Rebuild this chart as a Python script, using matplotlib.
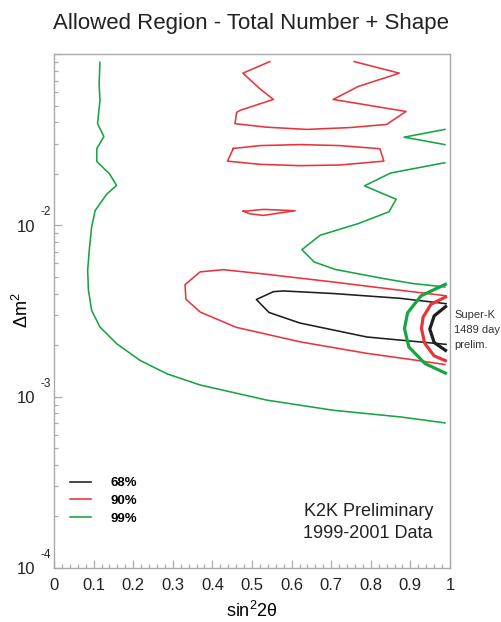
import matplotlib
matplotlib.use("Agg")
import matplotlib.pyplot as plt
import matplotlib.transforms as mtransforms
from matplotlib.ticker import MultipleLocator, LogLocator, NullFormatter

# K2K allowed region contours (sin^2 2theta, delta m^2 in eV^2)
k2k_68_x = [0.990, 0.874, 0.705, 0.579, 0.554, 0.511, 0.543, 0.621, 0.790, 0.990]
k2k_68_y = [0.00349, 0.00375, 0.00400, 0.00414, 0.00410, 0.00369, 0.00310, 0.00269, 0.00223, 0.00202]

k2k_90_main_x = [0.990, 0.874, 0.705, 0.537, 0.428, 0.369, 0.331, 0.333, 0.369, 0.460,
                 0.621, 0.790, 0.916, 0.987]
k2k_90_main_y = [0.00388, 0.00418, 0.00467, 0.00518, 0.00551, 0.00535, 0.00451, 0.00371,
                 0.00312, 0.00254, 0.00209, 0.00179, 0.00163, 0.00154]

k2k_90_top_x = [0.545, 0.477, 0.520, 0.554, 0.470, 0.461, 0.457, 0.537, 0.638, 0.747,
                0.840, 0.889, 0.705, 0.768, 0.872, 0.758]
k2k_90_top_y = [0.0903, 0.0773, 0.0627, 0.0543, 0.0469, 0.0456, 0.0392, 0.0374, 0.0363,
                0.0372, 0.0388, 0.0462, 0.0543, 0.0646, 0.0773, 0.0903]

k2k_90_band_x = [0.453, 0.438, 0.520, 0.621, 0.722, 0.833, 0.823, 0.722, 0.621, 0.520, 0.453]
k2k_90_band_y = [0.0281, 0.0237, 0.0227, 0.0223, 0.0225, 0.0237, 0.0280, 0.0292, 0.0296,
                 0.0292, 0.0281]

k2k_90_island_x = [0.478, 0.529, 0.609, 0.529, 0.495, 0.478]
k2k_90_island_y = [0.01208, 0.01239, 0.01217, 0.01143, 0.01167, 0.01208]

k2k_99_left_x = [0.116, 0.114, 0.116, 0.110, 0.126, 0.108, 0.108, 0.140, 0.158, 0.133,
                 0.104, 0.095, 0.089, 0.085, 0.087, 0.095, 0.116, 0.158, 0.217, 0.285,
                 0.369, 0.537, 0.705, 0.874, 0.987]
k2k_99_left_y = [0.0895, 0.0670, 0.0536, 0.0392, 0.0330, 0.0280, 0.0236, 0.0200, 0.0171,
                 0.0152, 0.0122, 0.00977, 0.00714, 0.00547, 0.00418, 0.00319, 0.00255,
                 0.00204, 0.00163, 0.00136, 0.00117, 0.000955, 0.000833, 0.000762, 0.000703]

k2k_99_notch_x = [0.987, 0.884, 0.987]
k2k_99_notch_y = [0.0363, 0.0327, 0.0296]

k2k_99_right_x = [0.987, 0.850, 0.784, 0.864, 0.846, 0.790, 0.768, 0.672, 0.626, 0.657,
                  0.710, 0.832, 0.907, 0.987]
k2k_99_right_y = [0.0232, 0.0202, 0.0170, 0.0142, 0.0120, 0.0107, 0.01023, 0.00875,
                  0.00721, 0.00611, 0.00553, 0.00489, 0.00457, 0.00437]

# Super-K 1489 day preliminary contours
sk_68_x = [0.992, 0.960, 0.949, 0.960, 0.992]
sk_68_y = [0.00340, 0.00296, 0.00248, 0.00207, 0.00184]
sk_90_x = [0.992, 0.952, 0.932, 0.928, 0.936, 0.960, 0.992]
sk_90_y = [0.00385, 0.00346, 0.00291, 0.00250, 0.00205, 0.00173, 0.00161]
sk_99_x = [0.992, 0.927, 0.893, 0.885, 0.896, 0.937, 0.992]
sk_99_y = [0.00457, 0.00388, 0.00309, 0.00250, 0.00195, 0.00156, 0.00136]

cl_labels = ["68%", "90%", "99%"]
cl_colors = ["#1e1e1e", "#e8353b", "#17a443"]
decades = [-4, -3, -2]
x_ticklabels = ["0", "0.1", "0.2", "0.3", "0.4", "0.5", "0.6", "0.7", "0.8", "0.9", "1"]

plt.rcParams["font.family"] = ["Liberation Sans", "DejaVu Sans"]
plt.rcParams["mathtext.default"] = "regular"
GREY = "#aaaaaa"
INK = "#222222"

fig = plt.figure(figsize=(5.01, 6.22), dpi=100)
ax = fig.add_axes([54 / 501, 54 / 622, 396 / 501, 514 / 622])

k2k_curves = {
    0: [(k2k_68_x, k2k_68_y)],
    1: [(k2k_90_main_x, k2k_90_main_y), (k2k_90_top_x, k2k_90_top_y),
        (k2k_90_band_x, k2k_90_band_y), (k2k_90_island_x, k2k_90_island_y)],
    2: [(k2k_99_left_x, k2k_99_left_y), (k2k_99_notch_x, k2k_99_notch_y),
        (k2k_99_right_x, k2k_99_right_y)],
}
for i, curves in k2k_curves.items():
    for j, (xs, ys) in enumerate(curves):
        ax.plot(xs, ys, color=cl_colors[i], lw=1.15,
                label=cl_labels[i] if j == 0 else None)

for xs, ys, c in [(sk_99_x, sk_99_y, cl_colors[2]), (sk_90_x, sk_90_y, cl_colors[1]),
                  (sk_68_x, sk_68_y, cl_colors[0])]:
    ax.plot(xs, ys, color=c, lw=2.3, solid_capstyle="butt")

ax.set_xlim(0, 1)
ax.set_yscale("log")
ax.set_ylim(1e-4, 1e-1)

# axis frame and ticks
for sp in ax.spines.values():
    sp.set_color(GREY)
    sp.set_linewidth(1.0)
ax.xaxis.set_major_locator(MultipleLocator(0.1))
ax.xaxis.set_minor_locator(MultipleLocator(0.02))
ax.yaxis.set_major_locator(LogLocator(base=10, numticks=10))
ax.yaxis.set_minor_locator(LogLocator(base=10, subs=range(2, 10), numticks=20))
ax.yaxis.set_major_formatter(NullFormatter())
ax.yaxis.set_minor_formatter(NullFormatter())
ax.tick_params(which="both", direction="in", color=GREY, width=0.9,
               top=False, right=False)
ax.tick_params(which="major", length=6)
ax.tick_params(which="minor", length=3)
ax.tick_params(axis="x", which="major", labelsize=12, pad=7)
ax.set_xticks([i / 10 for i in range(11)])
ax.set_xticklabels(x_ticklabels, color=INK)

# ROOT-style decade labels: base and exponent drawn separately
blend = mtransforms.blended_transform_factory(ax.transAxes, ax.transData)
for d in decades:
    base_tr = mtransforms.offset_copy(blend, fig=fig, x=0, y=-2, units="dots")
    exp_tr = mtransforms.offset_copy(blend, fig=fig, x=0, y=13, units="dots")
    ax.text(-0.048, 10.0 ** d, "10", transform=base_tr, ha="right", va="center",
            fontsize=12, color=INK)
    ax.text(-0.034, 10.0 ** d, f"{d}", transform=exp_tr, ha="left", va="center",
            fontsize=8.5, color=INK)

ax.set_xlabel(r"sin$^2$2$\theta$", fontsize=13, labelpad=6)
fig.text(22 / 501, 1 - 310 / 622, r"$\Delta$m$^2$", rotation=90, ha="center",
         va="center", fontsize=13)

fig.text(251 / 501, 1 - 23 / 622, "Allowed Region - Total Number + Shape",
         ha="center", va="center", fontsize=16, color=INK)

ax.legend(loc="upper left", bbox_to_anchor=(0.01, 0.2), frameon=False,
          handlelength=1.6, handletextpad=1.5, labelspacing=0.42,
          prop={"weight": "bold", "size": 9.5})

ax.text(0.957, 0.0885, "K2K Preliminary\n1999-2001 Data", transform=ax.transAxes,
        ha="right", va="center", fontsize=13, color=INK, linespacing=1.45)

fig.text(454 / 501, 1 - 330 / 622, "Super-K\n1489 day\nprelim.", ha="left",
         va="center", fontsize=8, color="#333333", linespacing=1.6)

fig.savefig("out.png", dpi=100)
plt.close(fig)
